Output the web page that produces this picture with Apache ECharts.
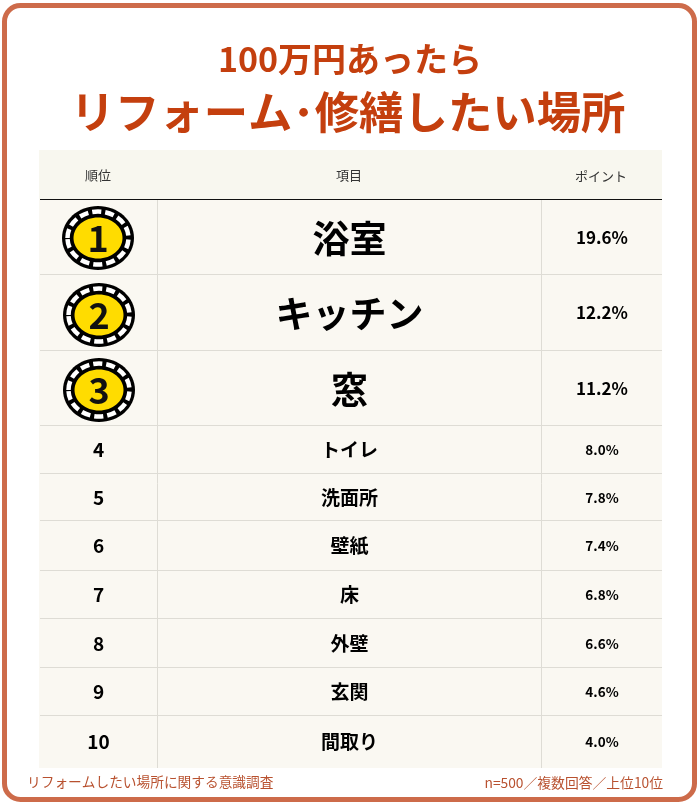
<!DOCTYPE html>
<html>
<head>
<meta charset="utf-8">
<style>
html, body { margin: 0; padding: 0; background: #fff; }
#chart { width: 700px; height: 808px; }
</style>
<script src="https://cdn.jsdelivr.net/npm/echarts@6/dist/echarts.min.js"></script>
</head>
<body>
<div id="chart"></div>
<script>
// 表の中身
const ranks = [1, 2, 3, 4, 5, 6, 7, 8, 9, 10];
const places = ['浴室', 'キッチン', '窓', 'トイレ', '洗面所', '壁紙', '床', '外壁', '玄関', '間取り'];
const shares = [19.6, 12.2, 11.2, 8.0, 7.8, 7.4, 6.8, 6.6, 4.6, 4.0];
const headers = ['順位', '項目', 'ポイント'];

// レイアウト
const rowEdges = [199, 274, 350, 425, 473, 520, 570, 618, 667, 715, 767];
const medalCenters = [[98, 238], [99, 315], [99, 390]];
const tableLeft = 39, tableRight = 662, colA = 157.5, colB = 541.5;
const font = '"Noto Sans CJK JP", sans-serif';
const red = '#c43f0e';

function label(x, y, text, size, weight, color) {
    return {
        type: 'text',
        silent: true,
        style: { x, y, text, fill: color || '#000', align: 'center', verticalAlign: 'middle', font: `${weight} ${size}px ${font}` }
    };
}

function medal(c, num) {
    const e = (rx, ry, style) => ({ type: 'ellipse', shape: { cx: c[0], cy: c[1], rx, ry }, style });
    return [
        e(36, 32, { fill: '#000' }),
        e(30.5, 26.5, { fill: 'none', stroke: '#fff', lineWidth: 4.5, lineDash: [9, 4] }),
        e(24.5, 20.5, { fill: '#ffdc00' }),
        label(c[0], c[1], String(num), 36, 700, '#111')
    ];
}

function renderRow(params, api) {
    const i = api.value(0);
    const p0 = api.coord([tableLeft, rowEdges[i]]);
    const p1 = api.coord([tableRight, rowEdges[i + 1]]);
    const midY = (p0[1] + p1[1]) / 2;
    const top3 = i < 3;
    const children = [];
    if (i < rowEdges.length - 2) {
        children.push({
            type: 'line',
            shape: { x1: p0[0] + 1, y1: p1[1] + 0.5, x2: p1[0], y2: p1[1] + 0.5 },
            style: { stroke: '#dedcd5', lineWidth: 1 }
        });
    }
    if (top3) {
        children.push(...medal(medalCenters[i], ranks[i]));
    } else {
        children.push(label(98.5, midY + 1, String(ranks[i]), 19, 700));
    }
    children.push(label(349.5, midY + (top3 ? 2 : 1), places[i], top3 ? 37 : 19, 700));
    children.push(label(602, midY + 1, api.value(1).toFixed(1) + '%', top3 ? 17 : 13.5, 700));
    return { type: 'group', children };
}

const myChart = echarts.init(document.getElementById('chart'));

const option = {
    animation: false,
    backgroundColor: '#fff',
    grid: { left: 0, right: 0, top: 0, bottom: 0 },
    xAxis: { type: 'value', min: 0, max: 700, show: false },
    yAxis: { type: 'value', min: 0, max: 808, inverse: true, show: false },
    graphic: [
        { type: 'rect', z: -1, shape: { x: 4.5, y: 5.5, width: 690, height: 794, r: 16 }, style: { fill: '#fff', stroke: '#cd6b4a', lineWidth: 5 } },
        { type: 'rect', z: 0, shape: { x: tableLeft, y: 150, width: tableRight - tableLeft, height: 49 }, style: { fill: '#f8f7ef' } },
        { type: 'rect', z: 0, shape: { x: tableLeft, y: 199, width: tableRight - tableLeft, height: 569 }, style: { fill: '#faf8f2' } },
        { type: 'line', z: 1, shape: { x1: colA, y1: 199, x2: colA, y2: 768 }, style: { stroke: '#dedcd5', lineWidth: 1 } },
        { type: 'line', z: 1, shape: { x1: colB, y1: 199, x2: colB, y2: 768 }, style: { stroke: '#dedcd5', lineWidth: 1 } },
        { type: 'line', z: 1, shape: { x1: tableLeft + 1, y1: 199.5, x2: tableRight, y2: 199.5 }, style: { stroke: '#111', lineWidth: 1 } },
        { type: 'text', z: 2, style: { x: 98, y: 175, text: headers[0], fill: '#333', align: 'center', verticalAlign: 'middle', font: `400 13px ${font}` } },
        { type: 'text', z: 2, style: { x: 349, y: 175, text: headers[1], fill: '#333', align: 'center', verticalAlign: 'middle', font: `400 13px ${font}` } },
        { type: 'text', z: 2, style: { x: 601, y: 176, text: headers[2], fill: '#333', align: 'center', verticalAlign: 'middle', font: `400 13px ${font}` } },
        { type: 'text', z: 2, style: { x: 350, y: 59, text: '100万円あったら', fill: red, align: 'center', verticalAlign: 'middle', font: `700 34px ${font}` } },
        { type: 'text', z: 2, style: { x: 348, y: 112, text: 'リフォーム･修繕したい場所', fill: red, align: 'center', verticalAlign: 'middle', font: `700 44.4px ${font}` } },
        { type: 'text', z: 2, style: { x: 27, y: 782, text: 'リフォームしたい場所に関する意識調査', fill: '#b8512f', align: 'left', verticalAlign: 'middle', font: `400 13.7px ${font}` } },
        { type: 'text', z: 2, style: { x: 663, y: 783, text: 'n=500／複数回答／上位10位', fill: '#b8512f', align: 'right', verticalAlign: 'middle', font: `400 13.8px ${font}` } }
    ],
    series: [{
        type: 'custom',
        coordinateSystem: 'cartesian2d',
        renderItem: renderRow,
        clip: false,
        z: 5,
        encode: { x: 0, y: 1 },
        data: shares.map((v, i) => [i, v])
    }]
};

myChart.setOption(option);
</script>
</body>
</html>
